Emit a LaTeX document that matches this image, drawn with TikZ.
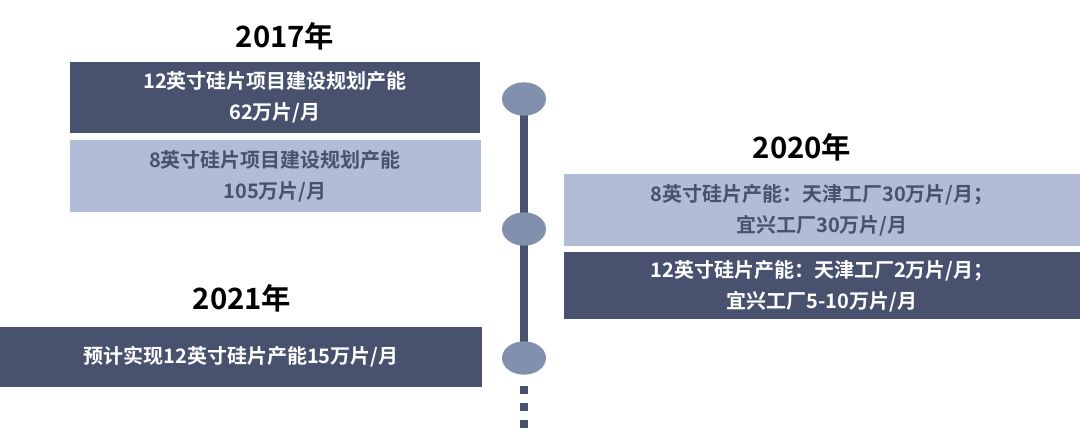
\documentclass[tikz,border=0pt]{standalone}
\usepackage{fontspec}
\usetikzlibrary{shapes.geometric}
\setmainfont{Noto Sans CJK SC}[BoldFont={* Bold}]
\definecolor{darkbar}{HTML}{48526F}
\definecolor{lightbar}{HTML}{B2BCD6}
\definecolor{dotfill}{HTML}{8190AC}
\begin{document}
\begin{tikzpicture}[x=0.75pt,y=-0.75pt]
        \tikzstyle{year}=[font=\bfseries\fontsize{22}{26}\selectfont,text=black]
        \tikzstyle{darkbox}=[fill=darkbar,text=white,font=\bfseries\fontsize{15}{23}\selectfont,align=center]
        \tikzstyle{lightbox}=[fill=lightbar,text=darkbar,font=\bfseries\fontsize{15}{23}\selectfont,align=center]
        \tikzstyle{stop}=[ellipse,fill=dotfill,minimum width=33pt,minimum height=25pt,inner sep=0pt]
        \useasboundingbox (0,0) rectangle (1080,439);
        % bars
        \fill[darkbox] (70,62) rectangle (480,133);
        \node[darkbox] (b1) at (275,97) {12英寸硅片项目建设规划产能\\62万片/月};
        \fill[lightbox] (70,140) rectangle (481,212);
        \node[lightbox] (b2) at (275,176) {8英寸硅片项目建设规划产能\\105万片/月};
        \fill[lightbox] (564,174) rectangle (1080,246);
        \node[lightbox] (b3) at (822,210) {8英寸硅片产能：天津工厂30万片/月；\\宜兴工厂30万片/月};
        \fill[darkbox] (564,252) rectangle (1080,319);
        \node[darkbox] (b4) at (822,286) {12英寸硅片产能：天津工厂2万片/月；\\宜兴工厂5-10万片/月};
        \fill[darkbox] (0,327) rectangle (482,387);
        \node[darkbox] (b5) at (241,357) {预计实现12英寸硅片产能15万片/月};
        % years
        \node[year] (y1) at (285,36) {2017年};
        \node[year] (y2) at (802,147) {2020年};
        \node[year] (y3) at (242,298) {2021年};
        % timeline
        \coordinate (top) at (524,99);
        \coordinate (mid) at (524,229);
        \coordinate (bot) at (524,358);
        \draw[darkbar,line width=6pt] (top) -- (bot);
        \node[stop] (s1) at (top) {};
        \node[stop] (s2) at (mid) {};
        \node[stop] (s3) at (bot) {};
        \foreach \yy in {390,407,424}
          \fill[darkbar] (520,\yy-4) rectangle (528,\yy+4);
\end{tikzpicture}
\end{document}
